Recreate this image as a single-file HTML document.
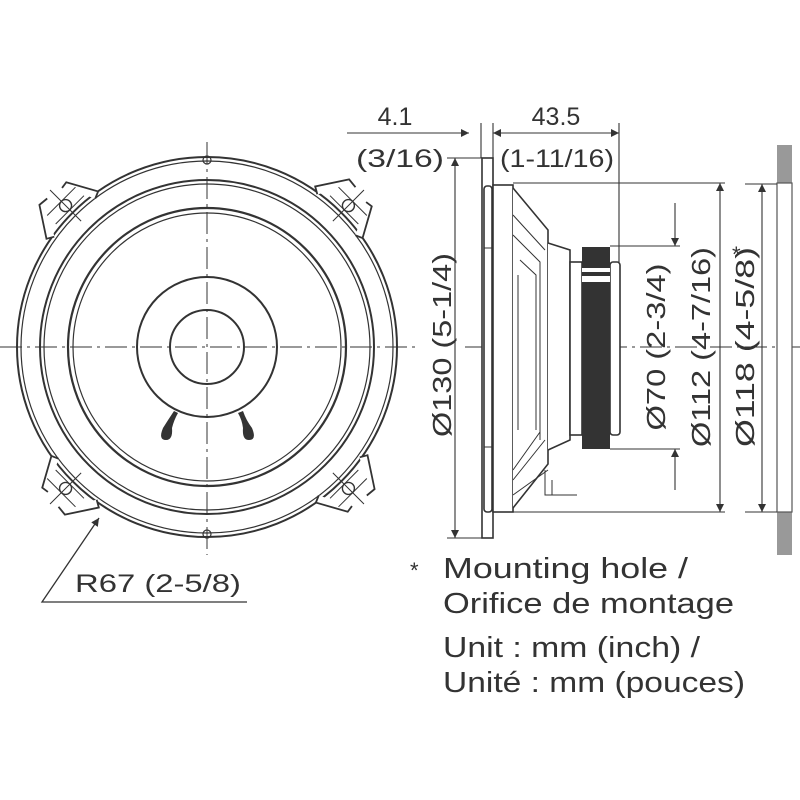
<!DOCTYPE html>
<html><head><meta charset="utf-8"><style>
html,body{margin:0;padding:0;background:#fff;}
svg{display:block}
text{font-family:"Liberation Sans",sans-serif;fill:#333;}
</style></head><body>
<svg width="800" height="800" viewBox="0 0 800 800" xmlns="http://www.w3.org/2000/svg">
<defs>
<marker id="ar" viewBox="0 0 10 10" refX="10" refY="5" markerWidth="12" markerHeight="8" markerUnits="userSpaceOnUse" orient="auto-start-reverse">
<path d="M0,0 L10,5 L0,10 z" fill="#333"/></marker>
<g id="tab">
<path d="M-8,-218 L-18,-219 L-37,-190 L-30,-186" fill="#fff" stroke="#333" stroke-width="1.8"/>
<path d="M10,-215 L17,-216 L33,-187 L26,-184" fill="#fff" stroke="#333" stroke-width="1.8"/>
<circle cx="0" cy="-200" r="6" fill="none" stroke="#333" stroke-width="1.4"/>
<path d="M-20,-206 L20,-206 M-20,-194 L20,-194 M0,-222 L0,-178" stroke="#333" stroke-width="1" fill="none"/>
</g>
</defs>
<g fill="none" stroke="#333">
<!-- front view -->
<circle cx="207" cy="347" r="190" stroke-width="2"/>
<circle cx="207" cy="347" r="186" stroke-width="1.2"/>
<circle cx="207" cy="347" r="167" stroke-width="2"/>
<circle cx="207" cy="347" r="163" stroke-width="1.2"/>
<circle cx="207" cy="347" r="139" stroke-width="2.2"/>
<circle cx="207" cy="347" r="134" stroke-width="1.2"/>
<circle cx="207" cy="347" r="70" stroke-width="2"/>
<circle cx="207" cy="347" r="37" stroke-width="2"/>
<circle cx="207" cy="160" r="4" stroke-width="1.2"/>
<circle cx="207" cy="534" r="4" stroke-width="1.2"/>
</g>
<g transform="translate(207,347) rotate(-45)"><use href="#tab"/></g>
<g transform="translate(207,347) rotate(45)"><use href="#tab"/></g>
<g transform="translate(207,347) rotate(135)"><use href="#tab"/></g>
<g transform="translate(207,347) rotate(225)"><use href="#tab"/></g>
<!-- terminals -->
<path d="M174,411 Q168,420 163,428 Q158,440 166,440 Q173,440 172,428 Q174,420 178,413 z" fill="#333"/>
<path d="M238,413 Q242,420 243,428 Q242,440 249,440 Q257,440 252,428 Q246,420 243,411 z" fill="#333"/>
<!-- centerlines -->
<g stroke="#333" stroke-width="1" stroke-dasharray="22,5,3,5" fill="none">
<line x1="0" y1="347" x2="415" y2="347"/>
<line x1="207" y1="142" x2="207" y2="555"/>
<line x1="465" y1="347" x2="800" y2="347"/>
</g>
<!-- R67 leader -->
<g stroke="#333" stroke-width="1.3" fill="none">
<polyline points="247,602 42,602 99,518" marker-end="url(#ar)"/>
</g>
<text x="75" y="592" font-size="25" textLength="166" lengthAdjust="spacingAndGlyphs">R67 (2-5/8)</text>

<!-- side view -->
<g stroke="#333" fill="#fff" stroke-width="1.6">
<rect x="482" y="158" width="11" height="380"/>
<rect x="484" y="186" width="8" height="326" rx="3"/>
<rect x="493" y="185" width="20" height="327"/>
<path d="M513,188 L548,230 L548,464 L513,508"/>
<path d="M548,243 L570,250 L570,440 L548,450"/>
<rect x="570" y="262" width="12" height="173"/>
<rect x="610" y="262" width="10" height="173" rx="3"/>
</g>
<g stroke="#333" stroke-width="1" fill="none">
<path d="M513,215 L545,250 M513,235 L540,262 L540,440 M520,260 L536,275 L536,430 M518,275 L518,430 M513,480 L545,440 M513,470 L540,432 M513,495 L548,470"/>
<path d="M545,470 L545,495 L552,495 L552,480 M545,495 L577,495"/>
<path d="M484,248 L492,248 M484,447 L492,447"/>
</g>
<rect x="582" y="247" width="28" height="202" fill="#333"/>
<rect x="582" y="268" width="28" height="4" fill="#fff"/>
<rect x="582" y="276" width="28" height="6" fill="#fff"/>
<!-- wall -->
<rect x="777" y="145" width="15" height="410" fill="#999"/>
<rect x="777" y="183" width="15" height="329" fill="#fff" stroke="#555" stroke-width="1.2"/>

<!-- dimension lines -->
<g stroke="#333" stroke-width="1.1" fill="none">
<line x1="481" y1="123" x2="481" y2="158"/>
<line x1="493" y1="123" x2="493" y2="185"/>
<line x1="619" y1="123" x2="619" y2="262"/>
<line x1="347" y1="133" x2="469" y2="133" marker-end="url(#ar)"/>
<line x1="493" y1="133" x2="619" y2="133" marker-start="url(#ar)" marker-end="url(#ar)"/>
<line x1="447" y1="158" x2="482" y2="158"/>
<line x1="447" y1="538" x2="482" y2="538"/>
<line x1="455" y1="158" x2="455" y2="538" marker-start="url(#ar)" marker-end="url(#ar)"/>
<line x1="513" y1="183" x2="725" y2="183"/>
<line x1="513" y1="512" x2="725" y2="512"/>
<line x1="720" y1="183" x2="720" y2="512" marker-start="url(#ar)" marker-end="url(#ar)"/>
<line x1="745" y1="184" x2="777" y2="184"/>
<line x1="745" y1="512" x2="777" y2="512"/>
<line x1="762" y1="184" x2="762" y2="512" marker-start="url(#ar)" marker-end="url(#ar)"/>
<line x1="610" y1="246" x2="680" y2="246"/>
<line x1="610" y1="449" x2="680" y2="449"/>
<line x1="675" y1="203" x2="675" y2="246" marker-end="url(#ar)"/>
<line x1="675" y1="490" x2="675" y2="449" marker-end="url(#ar)"/>
</g>
<text x="395" y="125" font-size="25" text-anchor="middle">4.1</text>
<text x="400" y="167" font-size="25" text-anchor="middle" textLength="88" lengthAdjust="spacingAndGlyphs">(3/16)</text>
<text x="556" y="125" font-size="25" text-anchor="middle">43.5</text>
<text x="557" y="167" font-size="25" text-anchor="middle" textLength="114" lengthAdjust="spacingAndGlyphs">(1-11/16)</text>
<text transform="translate(451,345) rotate(-90)" font-size="26" text-anchor="middle" textLength="184" lengthAdjust="spacingAndGlyphs">Ø130 (5-1/4)</text>
<text transform="translate(665,347) rotate(-90)" font-size="26" text-anchor="middle" textLength="167" lengthAdjust="spacingAndGlyphs">Ø70 (2-3/4)</text>
<text transform="translate(710,347) rotate(-90)" font-size="26" text-anchor="middle" textLength="200" lengthAdjust="spacingAndGlyphs">Ø112 (4-7/16)</text>
<text transform="translate(754,347) rotate(-90)" font-size="26" text-anchor="middle" textLength="200" lengthAdjust="spacingAndGlyphs">Ø118 (4-5/8)</text>
<text x="732" y="262" font-size="22">*</text>

<text x="410" y="578" font-size="22">*</text>
<text x="443" y="578" font-size="29" textLength="245" lengthAdjust="spacingAndGlyphs">Mounting hole /</text>
<text x="443" y="613" font-size="29" textLength="291" lengthAdjust="spacingAndGlyphs">Orifice de montage</text>
<text x="443" y="657" font-size="29" textLength="257" lengthAdjust="spacingAndGlyphs">Unit : mm (inch) /</text>
<text x="443" y="692" font-size="29" textLength="302" lengthAdjust="spacingAndGlyphs">Unité : mm (pouces)</text>
</svg>
</body></html>
